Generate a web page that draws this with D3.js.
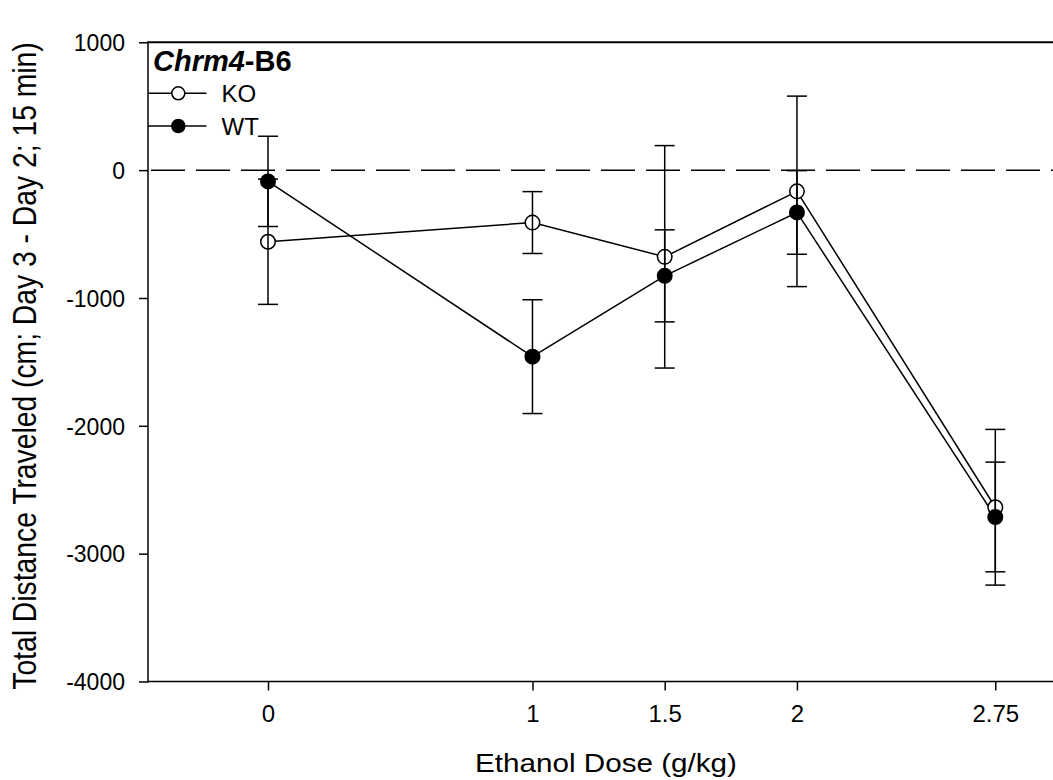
<!DOCTYPE html>
<html><head><meta charset="utf-8">
<script src="https://cdn.jsdelivr.net/npm/d3@7"></script>
<style>
html,body{margin:0;padding:0;background:#fff;}
svg{display:block;font-family:Arial,"Liberation Sans",sans-serif;}
</style></head>
<body>
<svg id="chart" width="1053" height="780"></svg>
<script>
// ---- data ----
const doses = [0, 1, 1.5, 2, 2.75];
const doseLabels = ["0", "1", "1.5", "2", "2.75"];
const koMean = [-560, -410, -678, -166, -2637];
const koErr  = [490, 242, 870, 745, 609];
const wtMean = [-88, -1459, -827, -331, -2713];
const wtErr  = [353, 445, 360, 327, 429];
const yTicks = [1000, 0, -1000, -2000, -3000, -4000];
const seriesNames = ["KO", "WT"];
const legendTitleItalic = "Chrm4";
const legendTitleRest = "-B6";
const xTitle = "Ethanol Dose (g/kg)";
const yTitle = "Total Distance Traveled (cm; Day 3 - Day 2; 15 min)";

(function () {
// ---- layout ----
const mLeft = 148, mTop = 42.3, mBottom = 681.5, mRight = 1053;
const svg = d3.select("#chart");

const x = d3.scaleLinear().domain([0, 2.75]).range([268, 995.3]);
const y = d3.scaleLinear().domain([-4000, 1000]).range([mBottom, mTop]);

const ko = doses.map((d, i) => ({d, m: koMean[i], e: koErr[i]}));
const wt = doses.map((d, i) => ({d, m: wtMean[i], e: wtErr[i]}));

// frame lines
svg.append("line").attr("x1", mLeft).attr("x2", mRight).attr("y1", mTop).attr("y2", mTop)
  .attr("stroke", "#000").attr("stroke-width", 2);

// dashed zero line
svg.append("line").attr("x1", mLeft).attr("x2", mRight).attr("y1", y(0)).attr("y2", y(0))
  .attr("stroke", "#000").attr("stroke-width", 1.5).attr("stroke-dasharray", "34,11")
  .attr("stroke-dashoffset", -3);

// y axis
const yAxis = d3.axisLeft(y).tickValues(yTicks).tickSize(9).tickPadding(14)
  .tickFormat(d => String(d));
const gy = svg.append("g").attr("transform", `translate(${mLeft},0)`).call(yAxis);
gy.select(".domain").remove();
gy.selectAll(".tick line").attr("stroke", "#000").attr("stroke-width", 1.5);
gy.selectAll(".tick text").attr("font-size", 23).attr("fill", "#000")
  .attr("font-family", "Arial, 'Liberation Sans', sans-serif").attr("dy", "0.36em");
svg.append("line").attr("x1", mLeft).attr("x2", mLeft).attr("y1", mTop - 1).attr("y2", mBottom + 1)
  .attr("stroke", "#000").attr("stroke-width", 1.5);

// x axis
const xAxis = d3.axisBottom(x).tickValues(doses).tickSize(9).tickPadding(14)
  .tickFormat((d, i) => doseLabels[i]);
const gx = svg.append("g").attr("transform", `translate(0,${mBottom})`).call(xAxis);
gx.select(".domain").remove();
gx.selectAll(".tick line").attr("stroke", "#000").attr("stroke-width", 1.5);
gx.selectAll(".tick text").attr("font-size", 24).attr("fill", "#000")
  .attr("font-family", "Arial, 'Liberation Sans', sans-serif");
svg.append("line").attr("x1", mLeft).attr("x2", mRight).attr("y1", mBottom).attr("y2", mBottom)
  .attr("stroke", "#000").attr("stroke-width", 1.5);

// axis titles
svg.append("text").attr("transform", "translate(606,771.5) scale(1.14,1)").attr("text-anchor", "middle")
  .attr("font-size", 26).text(xTitle);
svg.append("text").attr("transform", "translate(36,366) rotate(-90) scale(1,1.16)").attr("text-anchor", "middle")
  .attr("font-size", 28.3).text(yTitle);

// series lines
const line = d3.line().x(p => x(p.d)).y(p => y(p.m));
[ko, wt].forEach(s => {
  svg.append("path").datum(s).attr("d", line).attr("fill", "none")
    .attr("stroke", "#000").attr("stroke-width", 1.5);
});

const R = 7.25;
// KO circles
svg.append("g").selectAll("circle").data(ko).join("circle")
  .attr("cx", p => x(p.d)).attr("cy", p => y(p.m)).attr("r", R)
  .attr("fill", "#fff").attr("stroke", "#000").attr("stroke-width", 1.5);

// error bars
const capW = 10;
[ko, wt].forEach(s => {
  const g = svg.append("g").attr("stroke", "#000").attr("stroke-width", 1.5);
  s.forEach(p => {
    const cx = x(p.d), y1 = y(p.m + p.e), y2 = y(p.m - p.e);
    g.append("line").attr("x1", cx).attr("x2", cx).attr("y1", y1).attr("y2", y2);
    g.append("line").attr("x1", cx - capW).attr("x2", cx + capW).attr("y1", y1).attr("y2", y1);
    g.append("line").attr("x1", cx - capW).attr("x2", cx + capW).attr("y1", y2).attr("y2", y2);
  });
});

// WT circles
svg.append("g").selectAll("circle").data(wt).join("circle")
  .attr("cx", p => x(p.d)).attr("cy", p => y(p.m)).attr("r", R)
  .attr("fill", "#000").attr("stroke", "#000").attr("stroke-width", 1.5);

// legend
const lt = svg.append("text").attr("x", 153).attr("y", 70.5).attr("font-size", 29).attr("font-weight", "bold");
lt.append("tspan").attr("font-style", "italic").text(legendTitleItalic);
lt.append("tspan").text(legendTitleRest);

const legY = [93.3, 126];
seriesNames.forEach((name, i) => {
  const ly = legY[i];
  svg.append("line").attr("x1", mLeft).attr("x2", 206.5).attr("y1", ly).attr("y2", ly)
    .attr("stroke", "#000").attr("stroke-width", 1.5);
  svg.append("circle").attr("cx", 178.3).attr("cy", ly).attr("r", 6.5)
    .attr("fill", i === 0 ? "#fff" : "#000").attr("stroke", "#000").attr("stroke-width", 1.5);
  svg.append("text").attr("x", 221.5).attr("y", ly + 8.8).attr("font-size", 24).text(name);
});
})();
</script>
</body></html>
